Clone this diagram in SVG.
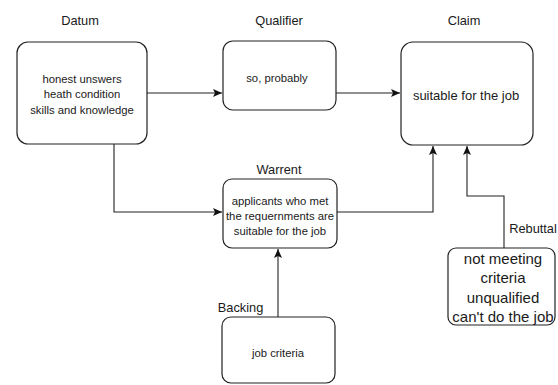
<svg xmlns="http://www.w3.org/2000/svg" width="558" height="385" viewBox="0 0 558 385">
  <style>
    .box { fill: #ffffff; stroke: #222222; stroke-width: 1.2; }
    .edge { fill: none; stroke: #222222; stroke-width: 1.1; }
    text { font-family: "Liberation Sans", Arial, sans-serif; fill: #1a1a1a; text-anchor: middle; }
    .label { font-size: 12.8px; }
    .body { font-size: 11.3px; }
    .claim { font-size: 13px; }
    .big { font-size: 15px; }
  </style>
  <defs>
    <marker id="arrow" markerUnits="userSpaceOnUse" markerWidth="10" markerHeight="10" refX="9" refY="4" orient="auto">
      <path d="M0,0 L9,4 L0,8 L2,4 Z" fill="#111111"/>
    </marker>
  </defs>

  <rect width="558" height="385" fill="#ffffff"/>

  <g id="connectors">
    <path class="edge" d="M147,93 L222,93" marker-end="url(#arrow)"/>
    <path class="edge" d="M336,93 L400,93" marker-end="url(#arrow)"/>
    <path class="edge" d="M114,144 L114,212 L222,212" marker-end="url(#arrow)"/>
    <path class="edge" d="M337,212 L433,212 L433,146" marker-end="url(#arrow)"/>
    <path class="edge" d="M278,317 L278,249" marker-end="url(#arrow)"/>
    <path class="edge" d="M504,248 L504,196 L467,196 L467,146" marker-end="url(#arrow)"/>
  </g>

  <g id="datum">
    <text class="label" x="80" y="25">Datum</text>
    <rect class="box" x="17" y="42" width="130" height="102" rx="11"/>
    <text class="body" x="82" y="83">honest unswers</text>
    <text class="body" x="82" y="98">heath condition</text>
    <text class="body" x="82" y="114">skills and knowledge</text>
  </g>

  <g id="qualifier">
    <text class="label" x="279" y="25">Qualifier</text>
    <rect class="box" x="223" y="41" width="113" height="69" rx="10"/>
    <text class="body" x="277" y="82">so, probably</text>
  </g>

  <g id="claim">
    <text class="label" x="464" y="25">Claim</text>
    <rect class="box" x="401" y="42" width="132" height="103" rx="12"/>
    <text class="claim" x="466" y="99.5">suitable for the job</text>
  </g>

  <g id="warrent">
    <text class="label" x="279" y="173.5">Warrent</text>
    <rect class="box" x="223" y="179" width="114" height="69" rx="9"/>
    <text class="body" x="280" y="205">applicants who met</text>
    <text class="body" x="280" y="220">the requernments are</text>
    <text class="body" x="280" y="235">suitable for the job</text>
  </g>

  <g id="backing">
    <text class="label" x="240.5" y="311.5">Backing</text>
    <rect class="box" x="222" y="317" width="113" height="66" rx="9"/>
    <text class="body" x="278" y="357">job criteria</text>
  </g>

  <g id="rebuttal">
    <text class="label" x="533" y="232.5">Rebuttal</text>
    <rect class="box" x="448" y="248" width="107" height="77" rx="8"/>
    <text class="big" x="503" y="264">not meeting</text>
    <text class="big" x="503" y="283">criteria</text>
    <text class="big" x="503" y="303">unqualified</text>
    <text class="big" x="503" y="322">can't do the job</text>
  </g>
</svg>
